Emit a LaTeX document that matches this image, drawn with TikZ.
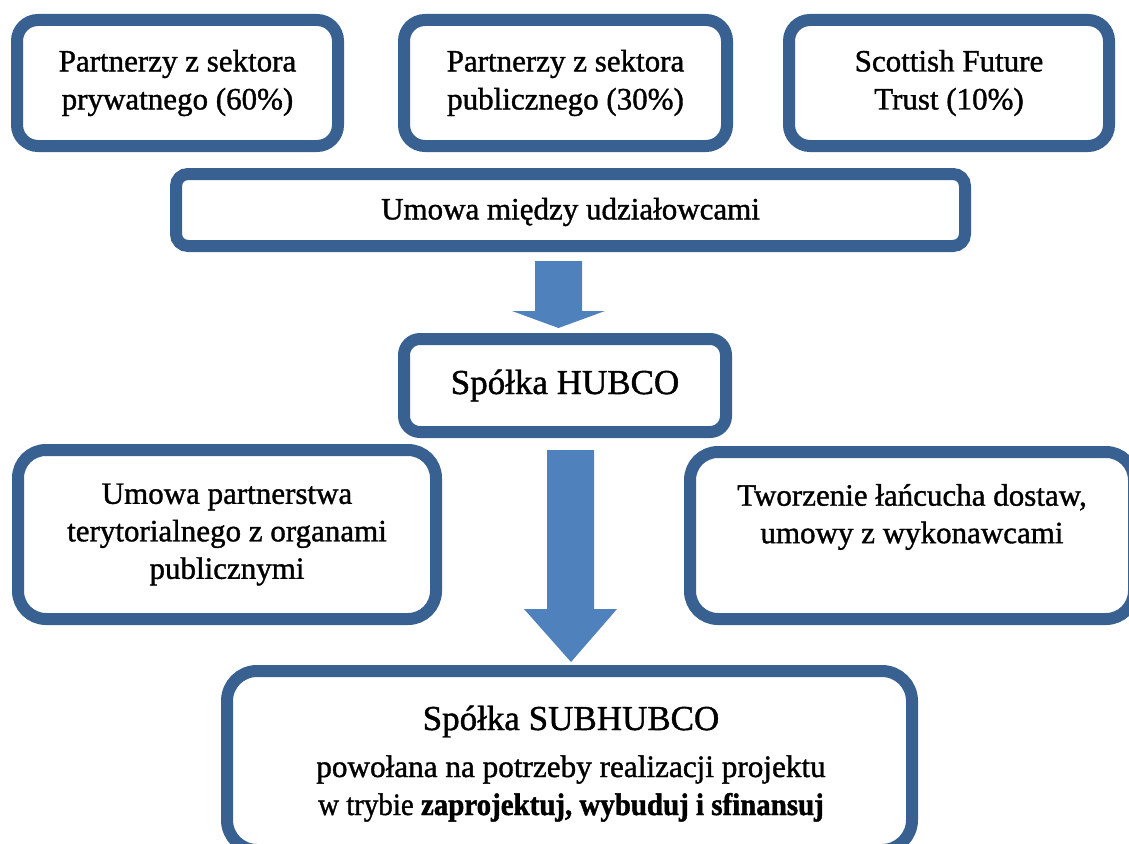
\documentclass[tikz,border=0pt]{standalone}
\usepackage{fontspec}
\setmainfont{Liberation Serif}[UprightFeatures={FakeBold=1.2},BoldFeatures={FakeBold=1.4}]
\usetikzlibrary{calc}
\definecolor{frame}{RGB}{56,96,145}
\definecolor{arrowblue}{RGB}{79,129,189}

\begin{document}
\begin{tikzpicture}[x=1pt,y=-1pt,
  box/.style={draw=frame, line width=12pt, fill=white, inner sep=0pt},
  txt/.style={align=center, inner sep=0pt, font=\fontsize{31}{38}\selectfont},
  headtxt/.style={inner sep=0pt, anchor=base, font=\fontsize{35}{40}\selectfont},
  bodytxt/.style={inner sep=0pt, anchor=base, font=\fontsize{31.2}{36}\selectfont},
  blockarrow/.style={fill=arrowblue}]
\useasboundingbox (0,0) rectangle (1129,843);
\clip (0,0) rectangle (1129,843);

% shareholders
\node[box, minimum width=321pt, minimum height=126pt, rounded corners=21pt] (priv) at (177.5,83) {};
\node[box, minimum width=323pt, minimum height=126pt, rounded corners=21pt] (publ) at (565.5,83) {};
\node[box, minimum width=320pt, minimum height=126pt, rounded corners=21pt] (sft) at (949,83) {};
\node[txt] (privt) at (priv) {Partnerzy z sektora\\prywatnego (60\%)};
\node[txt] (publt) at (publ) {Partnerzy z sektora\\publicznego (30\%)};
\node[txt] (sftt) at (sft) {Scottish Future\\Trust (10\%)};

% shareholders' agreement
\node[box, minimum width=789pt, minimum height=72pt, rounded corners=12pt] (agr) at (570.5,210) {};
\node[txt] (agrt) at ($(agr)+(0,2)$) {Umowa między udziałowcami};

% hub company
\node[box, minimum width=322pt, minimum height=93pt, rounded corners=16pt] (hub) at (565,385.5) {};
\node[headtxt] (hubt) at ($(hub.center)+(0,8.5)$) {Spółka HUBCO};

% side agreements
\node[box, minimum width=418pt, minimum height=169pt, rounded corners=28pt] (terr) at (227,534.5) {};
\node[txt, font=\fontsize{31}{37.5}\selectfont] (terrt) at (terr) {Umowa partnerstwa\\terytorialnego z organami\\publicznymi};
\node[box, minimum width=444pt, minimum height=167pt, rounded corners=28pt] (supp) at (912,535.5) {};
\node[txt, font=\fontsize{31}{37.5}\selectfont] (suppt) at ($(supp)+(0,-18.5)$) {Tworzenie łańcucha dostaw,\\umowy z wykonawcami};

% project company
\node[box, minimum width=685pt, minimum height=179pt, rounded corners=30pt] (sub) at (569.5,760.5) {};
\node[headtxt] (subt) at ($(sub.north)+(1.5,65)$) {Spółka SUBHUBCO};
\node[bodytxt] (subl1) at ($(sub.north)+(1.5,112)$) {powołana na potrzeby realizacji projektu};
\node[bodytxt] (subl2) at ($(sub.north)+(1.5,150)$) {\scalebox{0.927}[1]{w trybie \textbf{zaprojektuj, wybuduj i sfinansuj}}};

% block arrows
\fill[blockarrow] ($(agr.south)+(-35.5,9)$) -- ($(agr.south)+(11.5,9)$) -- ($(agr.south)+(11.5,59)$)
  -- ($(agr.south)+(34.5,59)$) -- ($(hub.north)+(-6.5,-5)$) -- ($(agr.south)+(-58.5,59)$)
  -- ($(agr.south)+(-35.5,59)$) -- cycle;
\fill[blockarrow] ($(hub.south)+(-18,12)$) -- ($(hub.south)+(29,12)$) -- ($(hub.south)+(29,171)$)
  -- ($(hub.south)+(52,171)$) -- ($(sub.north)+(1.5,-3)$) -- ($(hub.south)+(-41,171)$)
  -- ($(hub.south)+(-18,171)$) -- cycle;
\end{tikzpicture}
\end{document}
